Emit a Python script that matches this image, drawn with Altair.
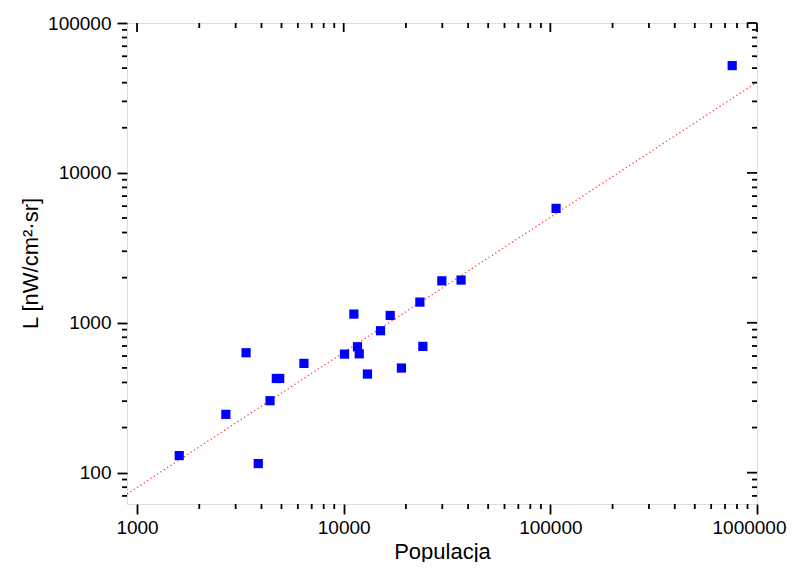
import altair as alt
import pandas as pd

# Data (log-log scatter)
populacja = [1600, 2690, 3370, 3860, 4400, 4720, 4900, 6420, 10090, 11200, 11660,
             11890, 13030, 15070, 16790, 19030, 23370, 24160, 29850, 36980, 106600, 758600]
L_values = [130, 245, 631, 115, 302, 425, 425, 536, 618, 1143, 692,
            621, 455, 885, 1119, 499, 1374, 696, 1905, 1928, 5795, 52000]

x_major = [1000, 10000, 100000, 1000000]
x_minor = [m * d for d in (1000, 10000, 100000) for m in range(2, 10)]
y_major = [100, 1000, 10000, 100000]
y_minor = [70, 80, 90] + [m * d for d in (100, 1000, 10000) for m in range(2, 10)]

x_domain = [894, 1000000]
y_domain = [61.8, 100000]

W, H = 630, 481
FONT = "Liberation Sans"
X_TITLE = "Populacja"
Y_TITLE = "L [nW/cm²·sr]"
LW = 1.8

df = pd.DataFrame({"pop": populacja, "L": L_values})
xmaj = pd.DataFrame({"v": x_major})
xmin = pd.DataFrame({"v": x_minor})
ymaj = pd.DataFrame({"v": y_major})
ymin = pd.DataFrame({"v": y_minor})

xs = alt.Scale(type="log", domain=x_domain, nice=False)
ys = alt.Scale(type="log", domain=y_domain, nice=False)

x_axis = alt.Axis(values=x_major, format="d", tickSize=10, tickWidth=LW,
                  tickColor="black", domain=False, grid=False,
                  labelFont=FONT, labelFontSize=19, labelColor="black",
                  labelPadding=4, labelFlush=1, labelFlushOffset=29,
                  titleFont=FONT, titleFontSize=22, titleFontWeight="normal",
                  titleColor="black", titleY=47, titleBaseline="middle")
y_axis = alt.Axis(values=y_major, format="d", tickSize=10, tickWidth=LW,
                  tickColor="black", domain=False, grid=False,
                  labelFont=FONT, labelFontSize=19, labelColor="black",
                  labelPadding=6, labelFlush=False,
                  titleFont=FONT, titleFontSize=22, titleFontWeight="normal",
                  titleColor="black", titleX=-97, titleY=240,
                  titleAngle=-90, titleBaseline="middle", titleAlign="center")


def X(field):
    return alt.X(field, type="quantitative", scale=xs, title=X_TITLE, axis=x_axis)


def Y(field):
    return alt.Y(field, type="quantitative", scale=ys, title=Y_TITLE, axis=y_axis)


points = alt.Chart(df).mark_square(size=85, color="#0000ff", opacity=1).encode(
    x=X("pop"), y=Y("L"))

fit = alt.Chart(df).transform_regression(
    "pop", "L", method="pow", extent=x_domain
).mark_line(color="#ff0000", strokeWidth=1.3, strokeDash=[1.3, 2.7], opacity=0.75).encode(
    x=X("pop"), y=Y("L"))


def xrule(data, y1, y2):
    return alt.Chart(data).mark_rule(color="black", strokeWidth=LW).encode(
        x=X("v"), y=alt.value(y1), y2=alt.value(y2))


def yrule(data, x1, x2):
    return alt.Chart(data).mark_rule(color="black", strokeWidth=LW).encode(
        y=Y("v"), x=alt.value(x1), x2=alt.value(x2))


ticks = [
    xrule(xmin, H, H + 5),      # bottom minor (outward)
    xrule(xmaj, 0, 9),          # top major (inward)
    xrule(xmin, 0, 5),          # top minor (inward)
    yrule(ymin, 0, -5),         # left minor (outward)
    yrule(ymaj, W, W - 10),     # right major (inward)
    yrule(ymin, W, W - 5),      # right minor (inward)
]

chart = alt.layer(fit, *ticks, points).properties(
    width=W, height=H,
    autosize=alt.AutoSizeParams(type="none"),
    padding={"left": 119, "top": 15, "right": 30, "bottom": 58},
).configure_view(
    stroke="black", strokeWidth=2
).configure(background="white")

chart.save("out.html", embed_options={"renderer": "svg", "actions": False})
